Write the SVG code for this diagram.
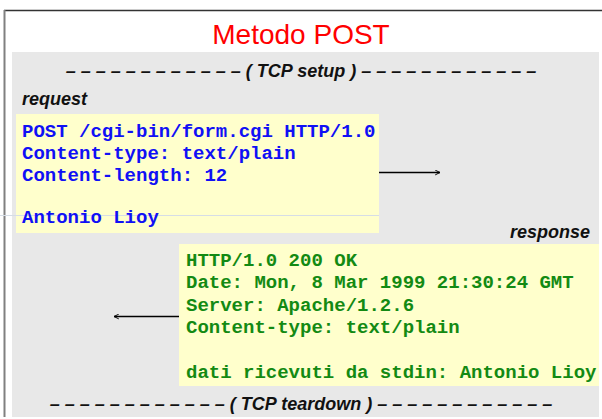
<svg xmlns="http://www.w3.org/2000/svg" width="602" height="419" viewBox="0 0 602 419">
<defs>
<style>
.title{font-family:"Liberation Sans",Arial,sans-serif;font-size:28px;fill:#ff0000;}
.sep{font-family:"Liberation Sans",Arial,sans-serif;font-size:18px;font-weight:bold;font-style:italic;fill:#111;}
.lbl{font-family:"Liberation Sans",Arial,sans-serif;font-size:18px;font-weight:bold;font-style:italic;fill:#111;}
.code{font-family:"Liberation Mono","Courier New",monospace;font-size:19px;font-weight:bold;}
.req{fill:#1010f5;}
.resp{fill:#138a13;}
.box{fill:#ffffcc;}
.conn{stroke:#000;stroke-width:1.3;fill:none;}
</style>
<marker id="arr" viewBox="0 0 10 10" refX="9" refY="5" markerWidth="6" markerHeight="6" orient="auto" markerUnits="userSpaceOnUse">
<path d="M1,1 L9,5 L1,9" fill="none" stroke="#000" stroke-width="1.6"/>
</marker>
</defs>
<rect x="0" y="0" width="602" height="419" fill="#ffffff"/>
<rect x="12" y="52" width="587" height="365" fill="#e8e8e8"/>
<line x1="4" y1="10.5" x2="602" y2="10.5" stroke="#333" stroke-width="1.5"/>
<line x1="4.5" y1="10" x2="4.5" y2="417" stroke="#808080" stroke-width="2"/>
<text class="title" x="301" y="44" text-anchor="middle">Metodo POST</text>
<text class="sep" x="301" y="77" text-anchor="middle">– – – – – – – – – – – – ( TCP setup ) – – – – – – – – – – – –</text>
<text class="lbl" x="22" y="105">request</text>
<g id="request">
<rect class="box" x="16" y="114" width="363" height="119"/>
<line x1="0" y1="215.5" x2="379" y2="215.5" stroke="#d6dde6" stroke-width="1"/>
<text class="code req" x="22" y="137">POST /cgi-bin/form.cgi HTTP/1.0</text>
<text class="code req" x="22" y="159">Content-type: text/plain</text>
<text class="code req" x="22" y="181">Content-length: 12</text>
<text class="code req" x="22" y="223">Antonio Lioy</text>
</g>
<text class="lbl" x="590" y="238" text-anchor="end">response</text>
<g id="response">
<rect class="box" x="179" y="244" width="420" height="142"/>
<text class="code resp" x="186" y="266">HTTP/1.0 200 OK</text>
<text class="code resp" x="186" y="288">Date: Mon, 8 Mar 1999 21:30:24 GMT</text>
<text class="code resp" x="186" y="311">Server: Apache/1.2.6</text>
<text class="code resp" x="186" y="333">Content-type: text/plain</text>
<text class="code resp" x="186" y="378">dati ricevuti da stdin: Antonio Lioy</text>
</g>
<text class="sep" x="301" y="410" text-anchor="middle">– – – – – – – – – – – – ( TCP teardown ) – – – – – – – – – – – –</text>
<g id="connectors">
<line class="conn" x1="379" y1="172.5" x2="440" y2="172.5" marker-end="url(#arr)"/>
<line class="conn" x1="179" y1="316.5" x2="114" y2="316.5" marker-end="url(#arr)"/>
</g>
</svg>
